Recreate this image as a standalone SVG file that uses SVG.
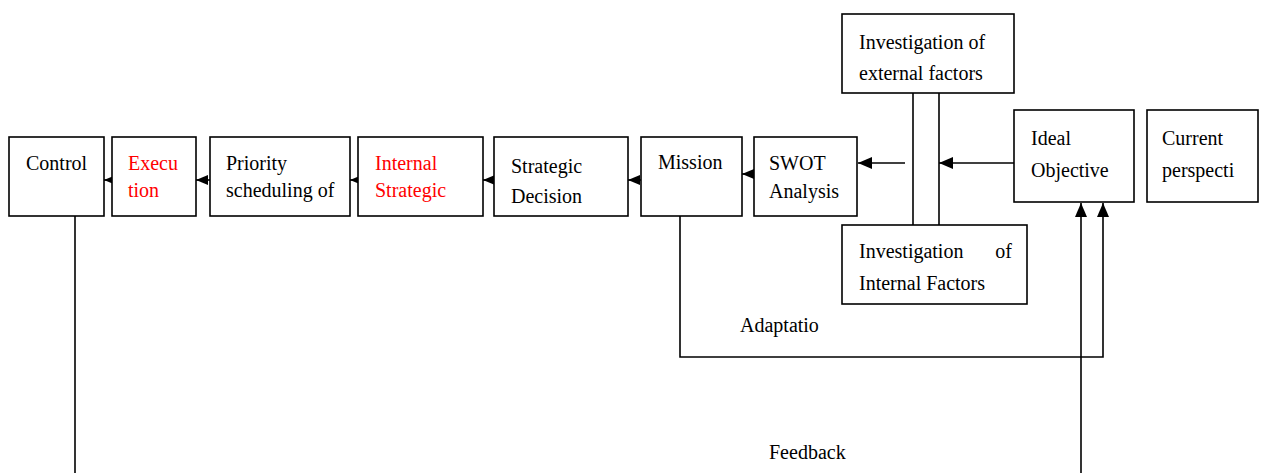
<svg xmlns="http://www.w3.org/2000/svg" width="1261" height="473" viewBox="0 0 1261 473">
<defs>
<marker id="ah" viewBox="0 0 12 10" refX="12" refY="5" markerWidth="12" markerHeight="10" markerUnits="userSpaceOnUse" orient="auto">
<path d="M0,0 L12,5 L0,10 Z" fill="#000"/>
</marker>
<marker id="ahb" viewBox="0 0 14 12" refX="14" refY="6" markerWidth="14" markerHeight="12" markerUnits="userSpaceOnUse" orient="auto">
<path d="M0,0 L14,6 L0,12 Z" fill="#000"/>
</marker>
<style>
.box{fill:#fff;stroke:#000;stroke-width:1.6}
.t{font-family:"Liberation Serif","Times New Roman",serif;font-size:20px;fill:#000}
.r{fill:#ff0000}
.ln{fill:none;stroke:#000;stroke-width:1.6}
</style>
</defs>
<rect width="1261" height="473" fill="#fff"/>
<g id="connectors">
<line class="ln" x1="112" y1="180" x2="104" y2="180" marker-end="url(#ah)"/>
<line class="ln" x1="210" y1="180" x2="196" y2="180" marker-end="url(#ah)"/>
<line class="ln" x1="358" y1="180" x2="350" y2="180" marker-end="url(#ah)"/>
<line class="ln" x1="494" y1="180" x2="483" y2="180" marker-end="url(#ah)"/>
<line class="ln" x1="641" y1="180" x2="628" y2="180" marker-end="url(#ah)"/>
<line class="ln" x1="754" y1="174" x2="742" y2="174" marker-end="url(#ah)"/>
<line class="ln" x1="905" y1="163" x2="858" y2="163" marker-end="url(#ahb)"/>
<line class="ln" x1="1014" y1="163" x2="939" y2="163" marker-end="url(#ahb)"/>
<line class="ln" x1="913" y1="93" x2="913" y2="225"/>
<line class="ln" x1="939" y1="90" x2="939" y2="225"/>
<polyline class="ln" points="680,216 680,357 1103,357 1103,203" marker-end="url(#ahb)"/>
<line class="ln" x1="1081" y1="473" x2="1081" y2="203" marker-end="url(#ahb)"/>
<line class="ln" x1="75" y1="216" x2="75" y2="473"/>
<text class="t" x="740" y="332">Adaptatio</text>
<text class="t" x="769" y="459">Feedback</text>
</g>
<g id="control"><rect class="box" x="9" y="137" width="95" height="79"/><text class="t" x="26" y="170">Control</text></g>
<g id="execution"><rect class="box" x="112" y="137" width="84" height="79"/><text class="t r" x="128" y="170">Execu</text><text class="t r" x="128" y="197">tion</text></g>
<g id="priority"><rect class="box" x="210" y="137" width="140" height="79"/><text class="t" x="226" y="170">Priority</text><text class="t" x="226" y="197">scheduling of</text></g>
<g id="internal-strategic"><rect class="box" x="358" y="137" width="125" height="79"/><text class="t r" x="375" y="170">Internal</text><text class="t r" x="375" y="197">Strategic</text></g>
<g id="strategic-decision"><rect class="box" x="494" y="137" width="134" height="79"/><text class="t" x="511" y="173">Strategic</text><text class="t" x="511" y="203">Decision</text></g>
<g id="mission"><rect class="box" x="641" y="137" width="101" height="79"/><text class="t" x="658" y="169">Mission</text></g>
<g id="swot"><rect class="box" x="754" y="137" width="103" height="79"/><text class="t" x="769" y="170">SWOT</text><text class="t" x="769" y="198">Analysis</text></g>
<g id="inv-external"><rect class="box" x="842" y="14" width="172" height="79"/><text class="t" x="859" y="49">Investigation of</text><text class="t" x="859" y="80">external factors</text></g>
<g id="inv-internal"><rect class="box" x="842" y="225" width="185" height="79"/><text class="t" x="859" y="258">Investigation</text><text class="t" x="1012" y="258" text-anchor="end">of</text><text class="t" x="859" y="290">Internal Factors</text></g>
<g id="ideal"><rect class="box" x="1014" y="110" width="120" height="92"/><text class="t" x="1031" y="145">Ideal</text><text class="t" x="1031" y="177">Objective</text></g>
<g id="current"><rect class="box" x="1147" y="110" width="111" height="92"/><text class="t" x="1162" y="145">Current</text><text class="t" x="1162" y="177">perspecti</text></g>
</svg>
